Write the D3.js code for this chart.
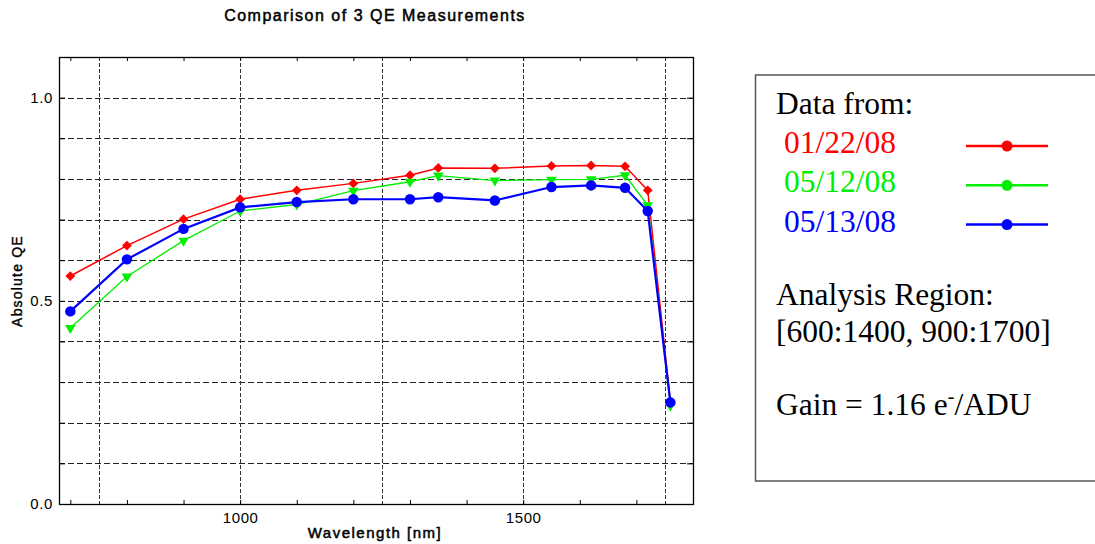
<!DOCTYPE html>
<html>
<head>
<meta charset="utf-8">
<script src="https://cdn.jsdelivr.net/npm/d3@7"></script>
<style>
  body { margin: 0; background: #fff; }
  svg { display: block; }
</style>
</head>
<body>
<div id="chart"></div>
<script>
// Data
const wavelengths = [700, 800, 900, 1000, 1100, 1200, 1300, 1350, 1450, 1550, 1620, 1680, 1720, 1760];
const qe012208 = [0.561, 0.636, 0.701, 0.750, 0.772, 0.789, 0.809, 0.827, 0.826, 0.832, 0.833, 0.831, 0.772, 0.253];
const qe051208 = [0.433, 0.560, 0.648, 0.721, 0.737, 0.771, 0.793, 0.808, 0.796, 0.798, 0.799, 0.809, 0.735, 0.242];
const qe051308 = [0.474, 0.602, 0.677, 0.730, 0.743, 0.750, 0.750, 0.755, 0.747, 0.780, 0.784, 0.778, 0.721, 0.250];
const seriesNames = ["01/22/08", "05/12/08", "05/13/08"];
const seriesColors = ["#ff0000", "#00ee00", "#0000ff"];
const yLabelTicks = [0, 0.5, 1.0];
const xLabelTicks = [1000, 1500];
const xGridTicks = [750, 1000, 1250, 1500, 1750];

const width = 1095;
const height = 544;
const marginLeft = 59, marginRight = 693, marginTop = 57, marginBottom = 504;

const x = d3.scaleLinear().domain([680, 1800]).range([marginLeft, marginRight]);
const y = d3.scaleLinear().domain([0, 1.1]).range([marginBottom, marginTop]);

const svg = d3.select("#chart").append("svg")
    .attr("width", width)
    .attr("height", height);

const sansFont = "'Liberation Sans', Arial, sans-serif";

// Title
svg.append("text")
    .attr("x", 375)
    .attr("y", 21)
    .attr("text-anchor", "middle")
    .style("font-family", sansFont)
    .style("font-size", "16px")
    .style("letter-spacing", "1.5px")
    .style("stroke", "#000")
    .style("stroke-width", "0.5px")
    .text("Comparison of 3 QE Measurements");

// Gridlines
const yGrid = d3.range(1, 11).map(d => d / 10);
svg.append("g")
  .selectAll("line")
  .data(yGrid)
  .join("line")
    .attr("x1", marginLeft).attr("x2", marginRight)
    .attr("y1", d => Math.round(y(d)) + 0.5).attr("y2", d => Math.round(y(d)) + 0.5)
    .attr("stroke", "#222")
    .attr("stroke-width", 1)
    .attr("stroke-dasharray", "6,3");

svg.append("g")
  .selectAll("line")
  .data(xGridTicks)
  .join("line")
    .attr("x1", d => Math.round(x(d)) + 0.5).attr("x2", d => Math.round(x(d)) + 0.5)
    .attr("y1", marginTop).attr("y2", marginBottom)
    .attr("stroke", "#333")
    .attr("stroke-width", 1)
    .attr("stroke-dasharray", "4,2");

// Axes (ticks pointing inward)
const yTicks = d3.range(0, 12).map(d => d / 10);
const xTicks = d3.range(700, 1801, 100);

const axisStyle = g => {
  g.select(".domain").remove();
  g.selectAll(".tick line").attr("stroke", "#000");
  g.selectAll("text")
    .style("font-family", sansFont)
    .style("font-size", "15px")
    .style("letter-spacing", "0.6px")
    .attr("fill", "#000");
};

svg.append("g")
    .attr("transform", `translate(${marginLeft},0)`)
    .call(d3.axisLeft(y).tickValues(yTicks).tickSize(-6).tickPadding(6)
      .tickFormat(d => yLabelTicks.some(v => Math.abs(v - d) < 1e-9) ? d3.format(".1f")(d) : ""))
    .call(axisStyle);

svg.append("g")
    .attr("transform", `translate(${marginRight},0)`)
    .call(d3.axisRight(y).tickValues(yTicks).tickSize(-6).tickFormat(""))
    .call(axisStyle);

svg.append("g")
    .attr("transform", `translate(0,${marginBottom})`)
    .call(d3.axisBottom(x).tickValues(xTicks).tickSize(-4).tickPadding(8)
      .tickFormat(d => xLabelTicks.includes(d) ? d : ""))
    .call(axisStyle);

svg.append("g")
    .attr("transform", `translate(0,${marginTop})`)
    .call(d3.axisTop(x).tickValues(xTicks).tickSize(-4).tickFormat(""))
    .call(axisStyle);

// Frame
svg.append("rect")
    .attr("x", marginLeft + 0.5)
    .attr("y", marginTop + 0.5)
    .attr("width", marginRight - marginLeft)
    .attr("height", marginBottom - marginTop)
    .attr("fill", "none")
    .attr("stroke", "#000")
    .attr("stroke-width", 1.3);

// Axis labels
svg.append("text")
    .attr("x", 375)
    .attr("y", 538)
    .attr("text-anchor", "middle")
    .style("font-family", sansFont)
    .style("font-size", "15px")
    .style("letter-spacing", "1.5px")
    .style("stroke", "#000")
    .style("stroke-width", "0.5px")
    .text("Wavelength [nm]");

svg.append("text")
    .attr("transform", `translate(22, 281) rotate(-90)`)
    .attr("text-anchor", "middle")
    .style("font-family", sansFont)
    .style("font-size", "14px")
    .style("letter-spacing", "1.2px")
    .style("stroke", "#000")
    .style("stroke-width", "0.4px")
    .text("Absolute QE");

// Series
const series = [qe012208, qe051208, qe051308].map((values, i) => ({
  name: seriesNames[i],
  color: seriesColors[i],
  points: wavelengths.map((w, j) => ({ w, v: values[j] }))
}));

const line = d3.line().x(d => x(d.w)).y(d => y(d.v));
const lineWidths = [1.5, 1.3, 2.2];
const symbols = [
  { type: d3.symbolSquare, size: 48, rotate: 45 },
  { type: d3.symbolTriangle, size: 48, rotate: 180 },
  { type: d3.symbolCircle, size: 86, rotate: 0 }
];

series.forEach((s, i) => {
  const g = svg.append("g");
  g.append("path")
      .datum(s.points)
      .attr("fill", "none")
      .attr("stroke", s.color)
      .attr("stroke-width", lineWidths[i])
      .attr("d", line);
  g.selectAll("path.marker")
    .data(s.points)
    .join("path")
      .attr("class", "marker")
      .attr("transform", d => `translate(${x(d.w)},${y(d.v)}) rotate(${symbols[i].rotate})`)
      .attr("d", d3.symbol().type(symbols[i].type).size(symbols[i].size))
      .attr("fill", s.color);
});

// Legend box
const serif = "'Liberation Serif', 'Times New Roman', serif";
const legend = svg.append("g");
legend.append("rect")
    .attr("x", 755.5)
    .attr("y", 75)
    .attr("width", 360)
    .attr("height", 406)
    .attr("fill", "#fff")
    .attr("stroke", "#555")
    .attr("stroke-width", 1.5);

legend.append("text")
    .attr("x", 776).attr("y", 114)
    .style("font-family", serif).style("font-size", "31.5px")
    .text("Data from:");

const legendRows = legend.selectAll("g.row")
  .data(series)
  .join("g")
    .attr("class", "row")
    .attr("transform", (d, i) => `translate(0, ${153 + i * 39.3})`);

legendRows.append("text")
    .attr("x", 784).attr("y", 0)
    .style("font-family", serif).style("font-size", "31.5px")
    .attr("fill", d => d.color)
    .text(d => d.name);

legendRows.append("line")
    .attr("x1", 966).attr("x2", 1048)
    .attr("y1", -7).attr("y2", -7)
    .attr("stroke", d => d.color)
    .attr("stroke-width", 2.5);

legendRows.append("circle")
    .attr("cx", 1007).attr("cy", -7).attr("r", 5.5)
    .attr("fill", d => d.color);

legend.append("text")
    .attr("x", 776).attr("y", 305)
    .style("font-family", serif).style("font-size", "31.5px")
    .text("Analysis Region:");

legend.append("text")
    .attr("x", 776).attr("y", 342)
    .style("font-family", serif).style("font-size", "31.5px")
    .text("[600:1400, 900:1700]");

const gain = legend.append("text")
    .attr("x", 776).attr("y", 415)
    .style("font-family", serif).style("font-size", "31.5px");
gain.append("tspan").text("Gain = 1.16 e");
gain.append("tspan").attr("dy", -12).style("font-size", "20px").text("-");
gain.append("tspan").attr("dy", 12).text("/ADU");
</script>
</body>
</html>
